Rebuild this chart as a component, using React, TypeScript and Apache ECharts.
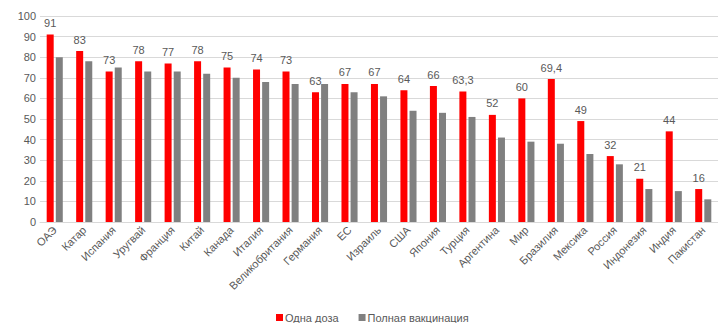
import React, { useEffect, useRef } from "react";
import * as echarts from "echarts";

const categories = [
  "ОАЭ", "Катар", "Испания", "Уругвай", "Франция", "Китай", "Канада", "Италия",
  "Великобритания", "Германия", "ЕС", "Израиль", "США", "Япония", "Турция",
  "Аргентина", "Мир", "Бразилия", "Мексика", "Россия", "Индонезия", "Индия", "Пакистан",
];
const oneDose = [91, 83, 73, 78, 77, 78, 75, 74, 73, 63, 67, 67, 64, 66, 63.3, 52, 60, 69.4, 49, 32, 21, 44, 16];
const fullVax = [80, 78, 75, 73, 73, 72, 70, 68, 67, 67, 63, 61, 54, 53, 51, 41, 39, 38, 33, 28, 16, 15, 11];
const seriesNames = ["Одна доза", "Полная вакцинация"];

const FONT = "'Liberation Sans', Arial, sans-serif";
const TEXT = "#595959";

export default function App() {
  const ref = useRef<HTMLDivElement>(null);
  useEffect(() => {
    if (!ref.current) return;
    const chart = echarts.init(ref.current, null, { renderer: "svg" });
    chart.setOption({
      animation: false,
      backgroundColor: "#ffffff",
      textStyle: { fontFamily: FONT },
      grid: { left: 40, top: 16, width: 686, height: 206, containLabel: false },
      legend: {
        data: seriesNames,
        left: 276,
        top: 312,
        padding: 0,
        itemWidth: 7,
        itemHeight: 7,
        itemGap: 20,
        icon: "rect",
        textStyle: { color: TEXT, fontSize: 11, fontFamily: FONT, padding: [0, 0, 0, -3] },
      },
      xAxis: {
        type: "category",
        data: categories,
        axisLine: { lineStyle: { color: "#d9d9d9" } },
        axisTick: { show: false },
        axisLabel: { rotate: 45, color: TEXT, fontSize: 11, fontFamily: FONT, interval: 0, margin: 6 },
      },
      yAxis: {
        type: "value",
        min: 0,
        max: 100,
        interval: 10,
        axisLine: { show: false },
        axisTick: { show: false },
        splitLine: { lineStyle: { color: "#d9d9d9" } },
        axisLabel: { color: TEXT, fontSize: 11, fontFamily: FONT, margin: 4 },
      },
      series: [
        {
          name: seriesNames[0],
          type: "bar",
          data: oneDose,
          barWidth: 7,
          barGap: "30%",
          itemStyle: { color: "#ff0000" },
          label: {
            show: true,
            position: "top",
            distance: 6,
            color: TEXT,
            fontSize: 11,
            fontFamily: FONT,
            formatter: (p: any) => String(p.value).replace(".", ","),
          },
        },
        {
          name: seriesNames[1],
          type: "bar",
          data: fullVax,
          barWidth: 7,
          itemStyle: { color: "#808080" },
        },
      ],
    });
    return () => chart.dispose();
  }, []);
  return (
    <div
      ref={ref}
      style={{ position: "absolute", left: 0, top: 0, width: 718, height: 323, overflow: "hidden" }}
    />
  );
}
